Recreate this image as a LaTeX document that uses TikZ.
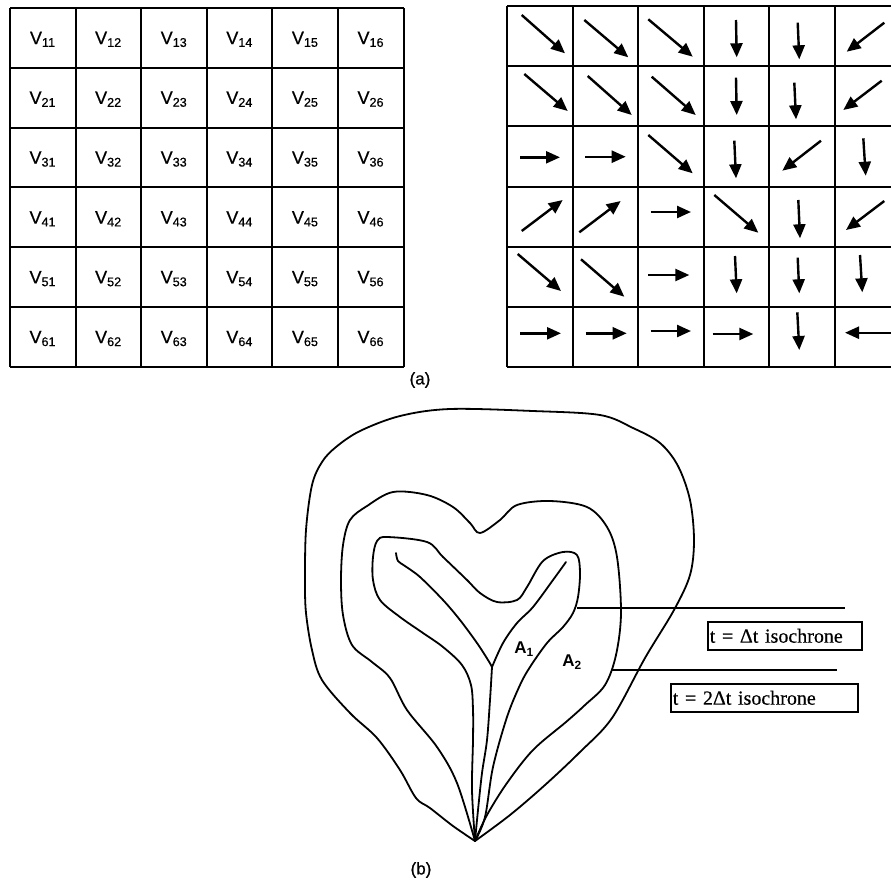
\documentclass[tikz,border=0pt]{standalone}
\usepackage{fontspec}
\setmainfont{Liberation Sans}
\newfontfamily\labelsans[FakeBold=0.6]{Liberation Sans}
\newfontfamily\boxserif[FakeBold=0.4]{Liberation Serif}
\usetikzlibrary{arrows.meta}
\begin{document}
\begin{tikzpicture}[x=1pt,y=-1pt,
  gridline/.style={line width=2pt},
  flow/.style={line width=2.4pt,-{Triangle[length=14pt,width=12pt]}},
  vlabel/.style={font=\labelsans\fontsize{18}{18}\selectfont, inner sep=0pt},
  sublabel/.style={font=\labelsans\fontsize{17}{17}\selectfont, inner sep=0pt},
  alabel/.style={font=\fontsize{17}{17}\selectfont\bfseries, inner sep=0pt},
  curve/.style={line width=1.8pt, line join=round, line cap=round},
  leader/.style={line width=1.6pt},
  isobox/.style={draw, line width=1.6pt, anchor=north west, inner xsep=2pt, inner ysep=0pt,
    font=\boxserif\fontsize{20}{20}\selectfont, align=left, minimum height=28pt}
]
\useasboundingbox (0,0) rectangle (891,884);
\clip (0,0) rectangle (891,884);

% ---------- left grid ----------
\foreach \i in {0,...,6} {
  \draw[gridline] (10+65.6*\i,8) -- (10+65.6*\i,367);
  \draw[gridline] (10,8+59.83*\i) -- (403.6,8+59.83*\i);
}
\foreach \r in {1,...,6} {
  \foreach \c in {1,...,6} {
    \node[vlabel] (V\r\c) at (10+65.6*\c-32.8, 8+59.83*\r-28.5) {V\textsubscript{\r\c}};
  }
}

% ---------- right grid ----------
\foreach \i in {0,...,6} {
  \draw[gridline] (507+65.6*\i,6) -- (507+65.6*\i,367);
  \draw[gridline] (507,6+60.17*\i) -- (905,6+60.17*\i);
}
% row 1
\draw[flow] (521.7,15) -- (565,53.3);
\draw[flow] (584.3,20) -- (628.3,57.3);
\draw[flow] (648.3,19.3) -- (692.7,56.7);
\draw[flow] (736,20) -- (736.7,57.3);
\draw[flow] (797.7,22.7) -- (799.3,59.3);
\draw[flow] (884.3,22.7) -- (846.7,51.7);
% row 2
\draw[flow] (524.3,74) -- (567.7,111);
\draw[flow] (587.7,76) -- (631.7,115);
\draw[flow] (651.7,76.7) -- (695.7,115);
\draw[flow] (736,77.7) -- (736.7,115);
\draw[flow] (794.3,82.7) -- (796,119.3);
\draw[flow] (881.7,80.7) -- (843.3,110);
% row 3
\draw[flow] (520,157.3) -- (560,157.3);
\draw[flow] (585,156.7) -- (625.7,156.7);
\draw[flow] (648.3,135) -- (692.7,173.3);
\draw[flow] (734.3,140.7) -- (736,178.3);
\draw[flow] (821,140.7) -- (782.3,170.7);
\draw[flow] (863.3,138.3) -- (865.7,175.7);
% row 4
\draw[flow] (521.7,231) -- (562.7,200);
\draw[flow] (579.3,232.3) -- (620.7,201);
\draw[flow] (650.7,212) -- (691,212);
\draw[flow] (714.3,195) -- (758.3,232.7);
\draw[flow] (798.3,200) -- (800,238.3);
\draw[flow] (884.3,201) -- (846,230);
% row 5
\draw[flow] (517.7,254) -- (561,291);
\draw[flow] (581,259.3) -- (624.3,296.7);
\draw[flow] (648.3,275) -- (689.3,275);
\draw[flow] (735,256) -- (736.7,293.3);
\draw[flow] (797.7,257.7) -- (799.3,293.3);
\draw[flow] (860,255) -- (862.3,292.3);
% row 6
\draw[flow] (520,333.3) -- (561,333.3);
\draw[flow] (585.7,333.3) -- (626.7,333.3);
\draw[flow] (650.7,331) -- (691,331);
\draw[flow] (712.7,334) -- (753.3,334);
\draw[flow] (797.3,312.3) -- (799.3,350);
\draw[flow] (893,332.7) -- (845,332.7);

\node[sublabel] (capa) at (420,380) {(a)};

% ---------- isochrone sketch ----------
\coordinate (tip) at (475,841);
% outer curve
\draw[curve] plot[smooth, tension=0.55] coordinates {
 (475,841) (453,826) (430,808) (416,798) (400,770) (377,738) (350,713) (322,680)
 (312,650) (306,613) (305,580) (306,530) (312,485) (322,462) (336,447) (360,431)
 (400,416) (450,409) (533,411) (600,415) (633,428) (660,443) (678,466) (690,500)
 (694,540) (690,575) (674,610) (645,658) (612,718) (580,752) (545,785) (510,815) (475,841)};
% middle curve
\draw[curve] plot[smooth, tension=0.55] coordinates {
 (475,841) (457,783) (437,747) (407,710) (390,678) (372,662) (352,645) (343,615)
 (341,580) (343,545) (350,520) (367,506) (393,492) (427,495) (453,507) (470,523)
 (480,533) (500,520) (517,505) (550,501) (587,507) (607,527) (617,557) (621,613)
 (616,655) (605,685) (585,705) (566,722) (533,750) (507,783) (487,815) (475,841)};
% inner loop
\draw[curve] plot[smooth, tension=0.55] coordinates {
 (475,841) (472,790) (473,740) (473,710) (471,685) (462,665) (443,647) (423,633)
 (400,617) (380,600) (373,580) (373,557) (377,541) (387,537) (427,542) (443,557)
 (467,580) (480,593) (497,602) (517,600) (527,587) (543,561) (563,552) (577,555)
 (580,573) (578,597) (573,613) (563,627) (547,643) (530,667) (520,685) (507,717)
 (493,767) (485,817) (475,841)};
% Y-shaped channel
\coordinate (junc) at (492,667);
\draw[curve] plot[smooth, tension=0.55] coordinates {
 (396,553) (398,561) (405,566) (420,577) (443,600) (460,620) (477,643) (488,660) (492,667)};
\draw[curve] plot[smooth, tension=0.55] coordinates {
 (566,562) (553,580) (533,607) (517,623) (503,643) (492,667)};
\draw[curve] plot[smooth, tension=0.55] coordinates {
 (492,667) (490,700) (487,740) (482,773) (478,810) (475,841)};

\node[alabel] (A1) at (524,649) {A\textsubscript{1}};
\node[alabel] (A2) at (572,662) {A\textsubscript{2}};

\coordinate (l1a) at (577,608);
\coordinate (l1b) at (845,608);
\draw[leader] (l1a) -- (l1b);
\node[isobox, text width=150pt] (iso1) at (707,621) {t = Δt isochrone};

\coordinate (l2a) at (612,670);
\coordinate (l2b) at (837,670);
\draw[leader] (l2a) -- (l2b);
\node[isobox, text width=183pt] (iso2) at (670,683) {t = 2Δt isochrone};

\node[sublabel] (capb) at (421,870) {(b)};
\end{tikzpicture}
\end{document}
